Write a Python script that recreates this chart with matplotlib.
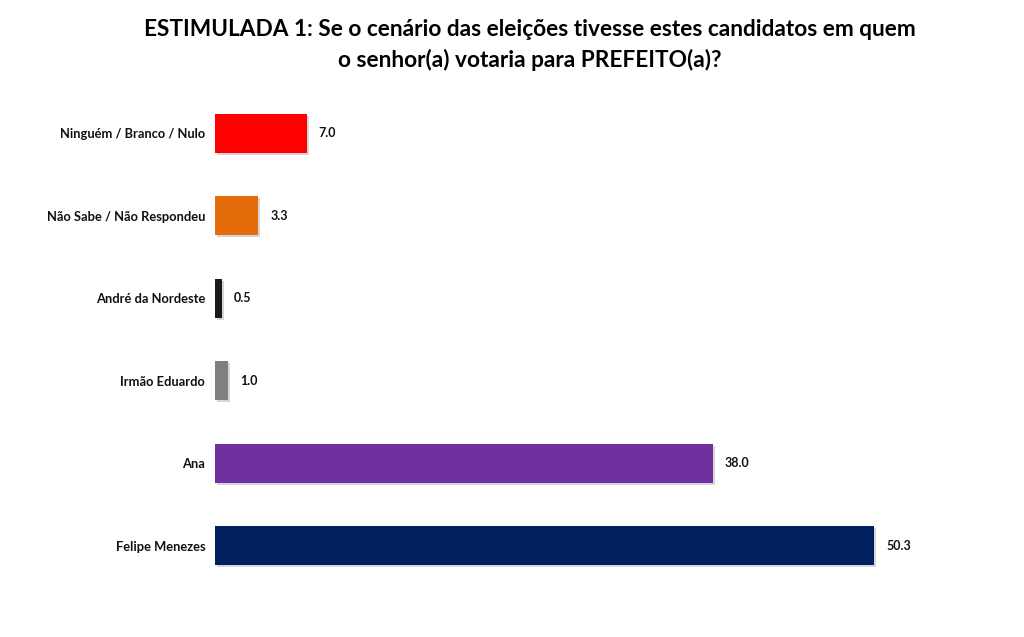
import matplotlib
matplotlib.use("Agg")
import matplotlib.pyplot as plt
import matplotlib.patheffects as pe

matplotlib.rcParams['font.family'] = ['Lato', 'DejaVu Sans']

# dados da pesquisa (de cima para baixo)
categorias = ["Ninguém / Branco / Nulo", "Não Sabe / Não Respondeu",
              "André da Nordeste", "Irmão Eduardo", "Ana", "Felipe Menezes"]
valores = [7.0, 3.3, 0.5, 1.0, 38.0, 50.3]
cores = ["#FF0000", "#E46C0A", "#1A1A1A", "#7F7F7F", "#7030A0", "#002060"]

titulo = ("ESTIMULADA 1: Se o cenário das eleições tivesse estes candidatos em quem\n"
          "o senhor(a) votaria para PREFEITO(a)?")

fig = plt.figure(figsize=(10.24, 6.37), dpi=100)
ax = fig.add_axes([0.21, 0.0785, 0.768, 0.777])

pos = list(range(len(categorias)))
barras = ax.barh(pos, valores, height=0.47, color=cores)
for b in barras:
    b.set_path_effects([pe.SimplePatchShadow(offset=(1.5, -1.5), shadow_rgbFace="#999999", alpha=0.4),
                        pe.Normal()])

for p, v in zip(pos, valores):
    ax.text(v + 0.9, p, "%.1f" % v, va="center", ha="left",
            fontsize=9, fontweight="bold", color="#111111")

ax.set_xlim(0, 60)
ax.set_ylim(len(categorias) - 0.5, -0.5)
ax.set_yticks(pos)
ax.set_yticklabels(categorias, fontsize=9.3, fontweight="bold", color="#111111")
ax.tick_params(axis="y", length=0, pad=7)
ax.set_xticks([])
for s in ax.spines.values():
    s.set_visible(False)

fig.text(0.517, 0.97, titulo, ha="center", va="top", fontsize=16.3,
         fontweight="bold", linespacing=1.5, color="#000000")

fig.savefig("out.png", dpi=100)
